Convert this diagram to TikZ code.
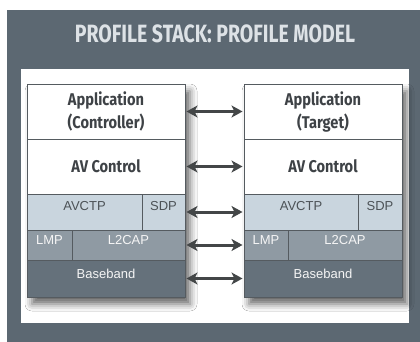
\documentclass[tikz,border=0pt]{standalone}
\usepackage{fontspec}
\setmainfont{Liberation Sans}
\newfontfamily\condfont[FakeStretch=0.86]{Fira Sans}
\newfontfamily\titlefont[FakeStretch=0.78]{Fira Sans}
\usetikzlibrary{arrows.meta,shadows.blur}
\definecolor{panel}{HTML}{5C6872}
\definecolor{titletext}{HTML}{DDE2E6}
\definecolor{rowA}{HTML}{C9D5DE}
\definecolor{rowB}{HTML}{8F9AA3}
\definecolor{rowC}{HTML}{65717B}
\definecolor{edge}{HTML}{555B60}
\definecolor{dark}{HTML}{3E4246}
\definecolor{arrowc}{HTML}{434647}
\begin{document}
\begin{tikzpicture}[x=1pt,y=-1pt,
  cell/.style={draw=edge, line width=0.8pt, anchor=north west, inner sep=0pt, outer sep=0pt},
  upper/.style={font=\condfont\bfseries\fontsize{17}{23}\selectfont, text=dark, align=center},
  lowerdark/.style={font=\fontsize{13}{15}\selectfont, text=edge!90!black},
  lowerlight/.style={font=\fontsize{13}{15}\selectfont, text=white!92!gray},
  link/.style={draw=arrowc, line width=3pt, {Stealth[length=11pt,width=12pt,inset=3pt]}-{Stealth[length=11pt,width=12pt,inset=3pt]}, shorten <=1.5pt, shorten >=1.5pt},
  stackshadow/.style={blur shadow={shadow xshift=5pt, shadow yshift=-7pt, shadow blur radius=7pt, shadow opacity=60}}
]
\useasboundingbox (0,0) rectangle (420,342);
\fill[white] (0,0) rectangle (420,342);
\fill[panel] (7,10) rectangle (420,342);
\node[font=\titlefont\bfseries\fontsize{25}{28}\selectfont, text=titletext] (title) at (215,34) {PROFILE STACK: PROFILE MODEL};
\node[fill=white, anchor=north west, minimum width=388pt, minimum height=254pt, inner sep=0pt] (inner) at (21,69) {};

% left stack
\path[fill=rowC, stackshadow] (27,84) rectangle (185,297);
\node[cell, fill=white, minimum width=158pt, minimum height=55pt] (appL) at (27,84) {};
\node[cell, fill=white, minimum width=158pt, minimum height=55pt] (avcL) at (27,139) {};
\node[cell, fill=rowA, minimum width=115pt, minimum height=36pt] (avctpL) at (27,194) {};
\node[cell, fill=rowA, minimum width=43pt, minimum height=36pt] (sdpL) at (142,194) {};
\node[cell, fill=rowB, minimum width=45pt, minimum height=30pt] (lmpL) at (27,230) {};
\node[cell, fill=rowB, minimum width=113pt, minimum height=30pt] (l2capL) at (72,230) {};
\node[cell, fill=rowC, minimum width=158pt, minimum height=37pt] (bbL) at (27,260) {};

\node[upper] (tappL) at (appL.center) {Application\\(Controller)};
\node[upper] (tavcL) at (avcL.center) {AV Control};
\node[lowerdark] (tavctpL) at ([yshift=6pt]avctpL.center) {AVCTP};
\node[lowerdark] (tsdpL) at ([yshift=6pt]sdpL.center) {SDP};
\node[lowerlight] (tlmpL) at ([yshift=5pt]lmpL.center) {LMP};
\node[lowerlight] (tl2capL) at ([yshift=5pt]l2capL.center) {L2CAP};
\node[lowerlight] (tbbL) at ([yshift=5pt]bbL.center) {Baseband};

% right stack
\path[fill=rowC, stackshadow] (244,84) rectangle (402,297);
\node[cell, fill=white, minimum width=158pt, minimum height=55pt] (appR) at (244,84) {};
\node[cell, fill=white, minimum width=158pt, minimum height=55pt] (avcR) at (244,139) {};
\node[cell, fill=rowA, minimum width=114pt, minimum height=36pt] (avctpR) at (244,194) {};
\node[cell, fill=rowA, minimum width=44pt, minimum height=36pt] (sdpR) at (358,194) {};
\node[cell, fill=rowB, minimum width=44pt, minimum height=30pt] (lmpR) at (244,230) {};
\node[cell, fill=rowB, minimum width=114pt, minimum height=30pt] (l2capR) at (288,230) {};
\node[cell, fill=rowC, minimum width=158pt, minimum height=37pt] (bbR) at (244,260) {};

\node[upper] (tappR) at (appR.center) {Application\\(Target)};
\node[upper] (tavcR) at (avcR.center) {AV Control};
\node[lowerdark] (tavctpR) at ([yshift=6pt]avctpR.center) {AVCTP};
\node[lowerdark] (tsdpR) at ([yshift=6pt]sdpR.center) {SDP};
\node[lowerlight] (tlmpR) at ([yshift=5pt]lmpR.center) {LMP};
\node[lowerlight] (tl2capR) at ([yshift=5pt]l2capR.center) {L2CAP};
\node[lowerlight] (tbbR) at ([yshift=5pt]bbR.center) {Baseband};

% connectors
\draw[link] (appL.east) -- (appR.west);
\draw[link] (avcL.east) -- (avcR.west);
\draw[link] (sdpL.east) -- (avctpR.west);
\draw[link] (l2capL.east) -- (lmpR.west);
\draw[link] (bbL.east) -- (bbR.west);
\end{tikzpicture}
\end{document}
